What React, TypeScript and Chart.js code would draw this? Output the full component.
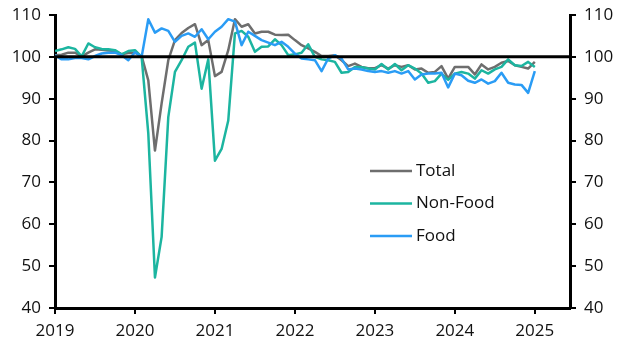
import React, { useEffect, useRef } from "react";
import { Chart, registerables } from "chart.js";

Chart.register(...registerables);

const months: string[] = [];
for (let y = 2019; y <= 2025; y++) {
  for (let m = 1; m <= 12; m++) {
    if (y === 2025 && m > 1) break;
    months.push(`${y}-${String(m).padStart(2, "0")}`);
  }
}

const seriesNames = ["Total", "Non-Food", "Food"];

const total = [
  100.4, 100.5, 101.0, 101.0, 100.1, 101.0, 101.8, 101.7, 101.5, 101.4, 100.6, 100.9,
  101.0, 100.2, 94.4, 77.6, 88.9, 99.2, 104.0, 105.7, 106.9, 107.8, 102.8, 104.0,
  95.4, 96.4, 101.6, 109.0, 107.2, 107.8, 105.6, 106.0, 106.0, 105.3, 105.2, 105.3,
  104.0, 102.8, 102.0, 101.2, 100.2, 100.2, 100.4, 99.2, 97.8, 98.4, 97.6, 97.3,
  97.3, 98.0, 97.2, 98.0, 97.6, 98.0, 97.0, 97.2, 96.2, 96.4, 97.8, 94.8,
  97.6, 97.6, 97.6, 95.8, 98.2, 97.0, 97.6, 98.6, 99.0, 98.0, 97.6, 97.2,
  98.8,
];

const nonFood = [
  101.4, 101.8, 102.3, 101.9, 100.1, 103.2, 102.3, 101.9, 101.8, 101.6, 100.6, 101.4,
  101.6, 100.0, 81.7, 47.3, 57.0, 85.6, 96.4, 99.2, 102.4, 103.4, 92.4, 99.4,
  75.2, 78.0, 84.8, 105.6, 106.2, 104.8, 101.2, 102.4, 102.5, 104.2, 102.8, 100.4,
  100.6, 101.0, 103.0, 100.0, 99.4, 99.2, 98.8, 96.2, 96.4, 97.6, 97.5, 97.2,
  97.0, 98.3, 97.0, 98.3, 96.8, 98.0, 97.2, 96.0, 93.8, 94.2, 96.0, 94.5,
  96.0, 96.4, 96.0, 94.8, 96.8, 96.0, 97.0, 97.6, 99.4, 98.0, 97.8, 98.8,
  97.6,
];

const food = [
  100.4, 99.4, 99.4, 99.7, 99.7, 99.4, 100.2, 100.8, 101.0, 101.0, 100.4, 99.2,
  101.1, 100.0, 109.0, 105.8, 106.8, 106.2, 103.6, 105.0, 105.6, 104.8, 106.6, 104.2,
  106.0, 107.2, 109.0, 108.4, 102.8, 106.0, 105.0, 104.0, 103.4, 102.8, 103.6, 102.4,
  100.8, 99.6, 99.4, 99.2, 96.6, 99.6, 100.4, 99.6, 97.0, 97.2, 97.0, 96.6,
  96.4, 96.6, 96.2, 96.6, 96.0, 96.6, 94.6, 95.8, 96.0, 96.0, 96.2, 92.7,
  96.0, 95.6, 94.3, 93.8, 94.6, 93.6, 94.2, 96.2, 93.8, 93.4, 93.3, 91.4,
  96.6,
];

const yearTicks = [2019, 2020, 2021, 2022, 2023, 2024, 2025];
const yTicks = [40, 50, 60, 70, 80, 90, 100, 110];

const colors = ["#6e6e6e", "#1cb5a0", "#2a9cf5"];
const FONT = "'Open Sans', 'Noto Sans', sans-serif";

function toX(label: string): number {
  const [y, m] = label.split("-").map(Number);
  return y + (m - 1) / 12;
}

const refLine = {
  id: "refLine",
  afterDatasetsDraw(chart: any) {
    const { ctx, chartArea } = chart;
    const y = chart.scales.y.getPixelForValue(100);
    ctx.save();
    ctx.strokeStyle = "#000";
    ctx.lineWidth = 3;
    ctx.beginPath();
    ctx.moveTo(chartArea.left, y);
    ctx.lineTo(chartArea.right, y);
    ctx.stroke();
    ctx.restore();
  },
};

const innerLegend = {
  id: "innerLegend",
  afterDraw(chart: any) {
    const { ctx, chartArea } = chart;
    ctx.save();
    ctx.font = `17px ${FONT}`;
    ctx.textBaseline = "middle";
    ctx.textAlign = "left";
    chart.data.datasets.forEach((ds: any, i: number) => {
      const y = chartArea.top + 156 + i * 32.5;
      const x0 = chartArea.left + 315;
      ctx.strokeStyle = ds.borderColor;
      ctx.lineWidth = 2.5;
      ctx.beginPath();
      ctx.moveTo(x0, y);
      ctx.lineTo(x0 + 42, y);
      ctx.stroke();
      ctx.fillStyle = "#111";
      ctx.fillText(ds.label, x0 + 46, y);
    });
    ctx.restore();
  },
};

export default function App() {
  const ref = useRef<HTMLCanvasElement | null>(null);
  useEffect(() => {
    document.body.style.margin = "0";
    if (!ref.current) return;
    const series = [total, nonFood, food];
    const yAxisCommon = (position: "left" | "right", padding: number, width: number) => ({
      type: "linear" as const,
      position,
      min: 40,
      max: 110,
      afterBuildTicks: (s: any) => {
        s.ticks = yTicks.map((v) => ({ value: v }));
      },
      afterFit: (s: any) => {
        s.width = width;
        s.paddingTop = 0;
        s.paddingBottom = 0;
      },
      grid: {
        drawOnChartArea: false,
        color: "#000",
        tickLength: 6,
        lineWidth: 2,
      },
      border: { display: true, color: "#000", width: 3 },
      ticks: {
        color: "#111",
        padding,
        font: { size: 17, family: FONT, lineHeight: 1 },
      },
    });
    const chart = new Chart(ref.current, {
      type: "line",
      data: {
        datasets: series.map((vals, i) => ({
          label: seriesNames[i],
          data: months.map((m, j) => ({ x: toX(m), y: vals[j] })),
          borderColor: colors[i],
          backgroundColor: colors[i],
          borderWidth: 2.5,
          borderJoinStyle: "round" as const,
          pointRadius: 0,
          tension: 0,
          order: 3 - i,
        })),
      },
      options: {
        responsive: false,
        animation: false,
        layout: { padding: { top: 15, left: 0, right: 0, bottom: 0 } },
        plugins: {
          legend: { display: false },
          tooltip: { enabled: false },
        },
        scales: {
          x: {
            type: "linear",
            min: 2019,
            max: 2025.44,
            afterBuildTicks: (s: any) => {
              s.ticks = yearTicks.map((v) => ({ value: v }));
            },
            afterFit: (s: any) => {
              s.height = 44;
              s.paddingLeft = 0;
              s.paddingRight = 0;
            },
            grid: { drawOnChartArea: false, color: "#000", tickLength: 6, lineWidth: 2 },
            border: { display: true, color: "#000", width: 3 },
            ticks: {
              color: "#111",
              padding: 7,
              maxRotation: 0,
              font: { size: 17, family: FONT },
              callback: (v: any) => String(v),
            },
          },
          y: yAxisCommon("left", 8, 55),
          y2: yAxisCommon("right", 8, 57),
        },
      },
      plugins: [refLine, innerLegend],
    });
    return () => chart.destroy();
  }, []);
  return (
    <div style={{ width: 627, height: 352 }}>
      <canvas ref={ref} width={627} height={352} />
    </div>
  );
}
